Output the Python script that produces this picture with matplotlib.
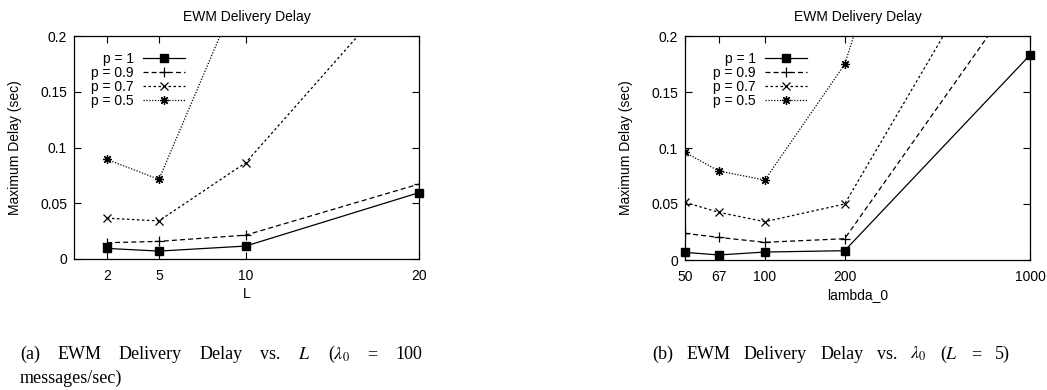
import matplotlib
matplotlib.use("Agg")
import matplotlib.pyplot as plt

# ---- data ----
L_vals = [2, 5, 10, 20]
L_p1 = [0.0095, 0.0071, 0.0116, 0.0595]
L_p09 = [0.0146, 0.0158, 0.0214, 0.0672]
L_p07 = [0.0366, 0.0342, 0.0863, 0.262]
L_p05 = [0.0893, 0.0714, 0.254, 0.60]

lam_vals = [50, 67, 100, 200, 1000]
lam_p1 = [0.0068, 0.0045, 0.0071, 0.0083, 0.183]
lam_p09 = [0.0238, 0.0202, 0.0158, 0.0190, 0.253]
lam_p07 = [0.0515, 0.0426, 0.0342, 0.0500, 0.332]
lam_p05 = [0.0961, 0.0795, 0.0714, 0.1747, 0.69]

labels = ["p = 1", "p = 0.9", "p = 0.7", "p = 0.5"]
yticks = [0, 0.05, 0.1, 0.15, 0.2]
ytick_labels = ["0", "0.05", "0.1", "0.15", "0.2"]
L_ticks = [2, 5, 10, 20]
lam_ticks = [50, 67, 100, 200, 1000]

caption_a1 = ["(a)", "EWM", "Delivery", "Delay", "vs.", "$L$", r"($\lambda_0$", "=", "100"]
caption_a2 = "messages/sec)"
caption_b = ["(b)", "EWM", "Delivery", "Delay", "vs.", r"$\lambda_0$", "($L$", "=", "5)"]

plt.rcParams['font.family'] = ['Liberation Sans', 'DejaVu Sans']
plt.rcParams['mathtext.fontset'] = 'stix'

W, H = 1047, 390
FS = 10
fig = plt.figure(figsize=(W / 100, H / 100), dpi=100)

styles = [
    dict(color='black', lw=0.9, ls='-', marker='s', ms=6, mfc='black', mec='black'),
    dict(color='black', lw=0.9, ls=(0, (4, 2.5)), marker='+', ms=7, mew=0.9),
    dict(color='black', lw=0.9, ls=(0, (2, 2)), marker='x', ms=6, mew=0.9),
    dict(color='black', lw=0.9, ls=(0, (1, 1.3)), marker=(8, 2, 0), ms=6.5, mew=0.9),
]


def make_axes(px_left, px_right, px_top, px_bottom):
    return fig.add_axes([px_left / W, 1 - px_bottom / H,
                         (px_right - px_left) / W, (px_bottom - px_top) / H])


def style_axes(ax):
    ax.set_ylim(0, 0.2)
    ax.set_yticks(yticks)
    ax.set_yticklabels(ytick_labels)
    ax.tick_params(direction='in', length=5, width=0.8, labelsize=FS,
                   top=True, right=True)
    ax.tick_params(axis='x', pad=7)
    ax.tick_params(axis='y', pad=5)
    for s in ax.spines.values():
        s.set_linewidth(0.9)
    ax.set_title("EWM Delivery Delay", fontsize=FS, pad=11)
    ax.set_ylabel("Maximum Delay (sec)", fontsize=FS, labelpad=13)


def add_legend(ax, right_px):
    ax.legend(loc='upper right', bbox_to_anchor=(right_px / W, 1 - 52 / H),
              bbox_transform=fig.transFigure, frameon=False,
              markerfirst=False, alignment='right', fontsize=FS, handlelength=3.0,
              handletextpad=0.7, labelspacing=0.0, numpoints=1, borderpad=0,
              borderaxespad=0)


# left
ax1 = make_axes(74, 419, 36, 259)
for vals, st, lab in zip([L_p1, L_p09, L_p07, L_p05], styles, labels):
    ax1.plot(L_vals, vals, label=lab, clip_on=(st['marker'] != 's'), **st)
ax1.set_xlim(0.1, 20)
ax1.set_xticks(L_ticks)
ax1.set_xticklabels([str(v) for v in L_ticks])
style_axes(ax1)
ax1.set_xlabel("L", fontsize=FS, labelpad=3)
add_legend(ax1, 185)

# right
ax2 = make_axes(685, 1030, 36, 260)
for vals, st, lab in zip([lam_p1, lam_p09, lam_p07, lam_p05], styles, labels):
    ax2.plot(lam_vals, vals, label=lab, clip_on=(st['marker'] != 's'), **st)
ax2.set_xscale('log')
ax2.set_xlim(50, 1000)
ax2.set_xticks(lam_ticks)
ax2.set_xticklabels([str(v) for v in lam_ticks])
ax2.xaxis.set_minor_locator(matplotlib.ticker.NullLocator())
style_axes(ax2)
ax2.set_xlabel("lambda_0", fontsize=FS, labelpad=3)
add_legend(ax2, 807)

# captions (justified word placement)
cap_kw = dict(fontsize=13, family=['Liberation Serif', 'DejaVu Serif'], va='baseline')
fig.canvas.draw()
renderer = fig.canvas.get_renderer()


def justify(words, x0_px, x1_px, base_px):
    texts = [fig.text(0, 1 - base_px / H, w, ha='left', **cap_kw) for w in words]
    widths = [t.get_window_extent(renderer).width for t in texts]
    gap = (x1_px - x0_px - sum(widths)) / (len(words) - 1)
    x = x0_px
    for t, wdt in zip(texts, widths):
        t.set_x(x / W)
        x += wdt + gap


justify(caption_a1, 20, 422, 359)
fig.text(20 / W, 1 - 383 / H, caption_a2, ha='left', **cap_kw)
justify(caption_b, 652, 1010, 359)

fig.savefig("out.png", dpi=100)
